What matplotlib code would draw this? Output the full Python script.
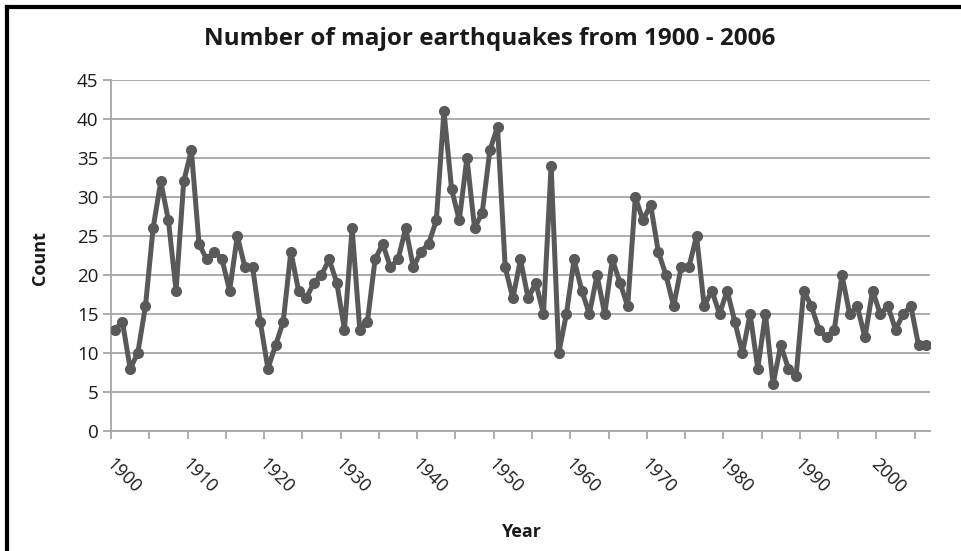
import numpy as np
import matplotlib
matplotlib.use("Agg")
import matplotlib.pyplot as plt
import matplotlib.transforms as mtrans
from matplotlib.lines import Line2D

plt.rcParams['font.family'] = ['Open Sans', 'DejaVu Sans']

years = list(range(1900, 2007))
counts = [13, 14, 8, 10, 16, 26, 32, 27, 18, 32,
          36, 24, 22, 23, 22, 18, 25, 21, 21, 14,
          8, 11, 14, 23, 18, 17, 19, 20, 22, 19,
          13, 26, 13, 14, 22, 24, 21, 22, 26, 21,
          23, 24, 27, 41, 31, 27, 35, 26, 28, 36,
          39, 21, 17, 22, 17, 19, 15, 34, 10, 15,
          22, 18, 15, 20, 15, 22, 19, 16, 30, 27,
          29, 23, 20, 16, 21, 21, 25, 16, 18, 15,
          18, 14, 10, 15, 8, 15, 6, 11, 8, 7,
          18, 16, 13, 12, 13, 20, 15, 16, 12, 18,
          15, 16, 13, 15, 16, 11, 11]
label_years = [1900, 1910, 1920, 1930, 1940, 1950, 1960, 1970, 1980, 1990, 2000]

txt = '#1a1a1a'
grid_c = '#a6a6a6'

fig = plt.figure(figsize=(9.61, 5.51), dpi=100)
ax = fig.add_axes([111/961, 1 - 431/551, (930 - 111)/961, (431 - 80)/551])

x = np.arange(len(years))
ax.plot(x, counts, color='#595959', lw=3.6, marker='o', ms=7,
        solid_joinstyle='round', zorder=3)

ax.set_xlim(-0.5, len(years) - 0.5)
ax.set_ylim(0, 45)
ax.set_yticks(range(0, 46, 5))
ax.grid(axis='y', color=grid_c, lw=1.3)
ax.set_axisbelow(True)

# tick marks every 5 categories, labels every 10 years
ax.set_xticks(np.arange(-0.5, len(years), 5))
ax.set_xticklabels([])
lab_pos = [years.index(y) for y in label_years]
ax.set_xticks(lab_pos, minor=True)
ax.set_xticklabels([str(y) for y in label_years], minor=True, rotation=-45,
                   ha='left', va='top', rotation_mode='anchor', fontsize=13, color=txt)
shift = mtrans.ScaledTranslation(3/100, 0, fig.dpi_scale_trans)
for lab in ax.get_xticklabels(minor=True):
    lab.set_transform(lab.get_transform() + shift)
ax.tick_params(axis='x', which='minor', length=0, pad=17)
ax.tick_params(axis='x', which='major', length=6, width=1.3, color=grid_c)
ax.tick_params(axis='y', length=6, width=1.3, color=grid_c, labelsize=13.5,
               labelcolor=txt, pad=3)

for s in ['top', 'right']:
    ax.spines[s].set_visible(False)
for s in ['left', 'bottom']:
    ax.spines[s].set_color(grid_c)
    ax.spines[s].set_linewidth(1.3)

fig.text(490/961, 1 - 39/551, 'Number of major earthquakes from 1900 - 2006',
         ha='center', va='center', fontsize=17.5, fontweight='bold', color=txt)
fig.text(40/961, 1 - 258/551, 'Count', rotation=90, ha='center', va='center',
         fontsize=13, fontweight='bold', color=txt)
fig.text(521/961, 1 - 532/551, 'Year', ha='center', va='center',
         fontsize=13, fontweight='bold', color=txt)

# chart frame (top and left edges visible)
fig.add_artist(Line2D([7/961, 1], [1 - 7/551, 1 - 7/551], color='black', lw=3,
                      transform=fig.transFigure))
fig.add_artist(Line2D([7/961, 7/961], [0, 1 - 7/551], color='black', lw=3,
                      transform=fig.transFigure))

fig.savefig('out.png', dpi=100)
